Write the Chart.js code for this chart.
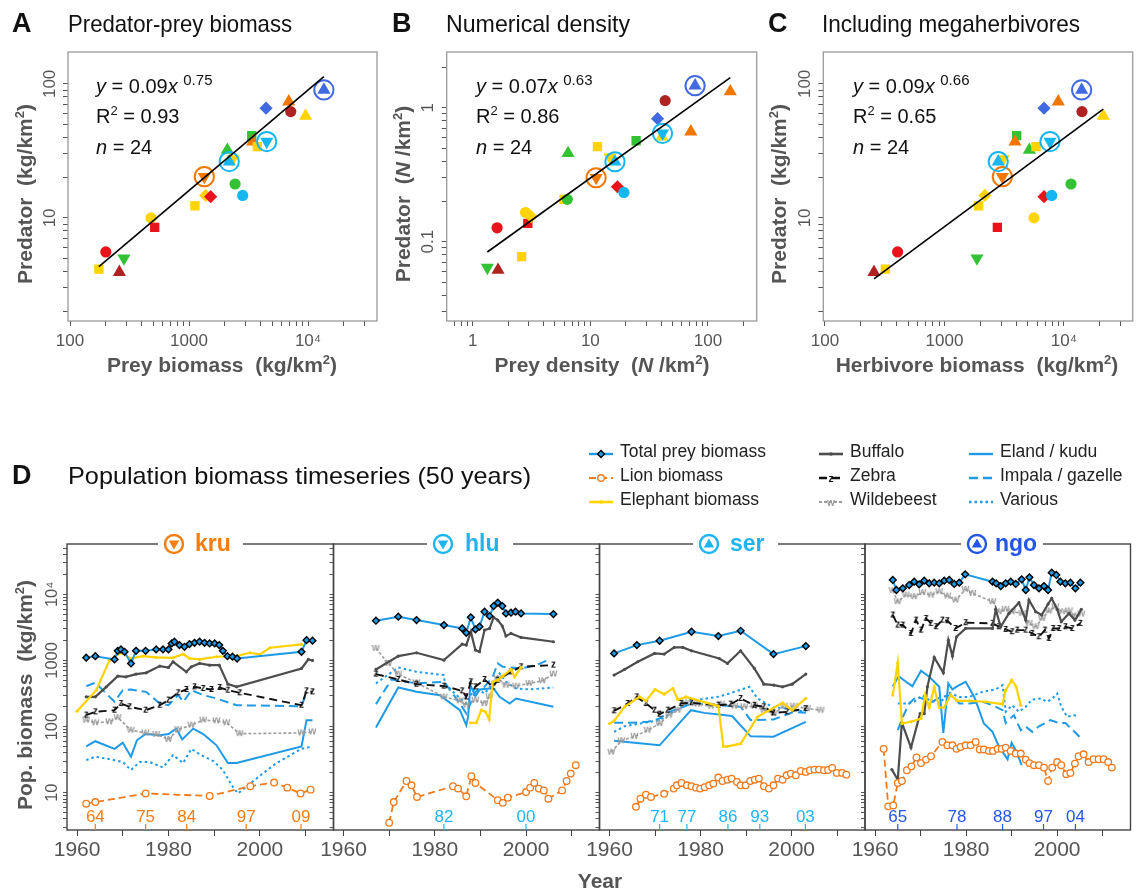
<!DOCTYPE html>
<html>
<head>
<meta charset="utf-8">
<script src="https://cdn.jsdelivr.net/npm/chart.js@4.4.1/dist/chart.umd.min.js"></script>
<style>
  body { margin: 0; background: #fff; }
  #page { position: relative; width: 1141px; height: 892px; overflow: hidden;
          font-family: "Liberation Sans", Arial, Helvetica, sans-serif; color: #111; }
  #plots canvas { position: absolute; left: 0; top: 0; }
  #texts { position: absolute; left: 0; top: 0; width: 1141px; height: 892px; z-index: 5; }
  .t { position: absolute; white-space: nowrap; line-height: 1; }
  .letter { font-weight: bold; font-size: 27px; color: #111; }
  .title { font-size: 24px; color: #111; }
  .eq { font-size: 20px; line-height: 28px; color: #111; }
  .eq sup { font-size: 15px; position: relative; top: -0.55em; vertical-align: baseline; }
  .eq .s2 { font-size: 13px; position: relative; top: -0.6em; vertical-align: baseline; }
  .axt { font-weight: bold; font-size: 21px; color: #555; }
  .lg { font-size: 17.5px; color: #222; }
  .lg svg { position: absolute; }
  .ptitle { font-weight: bold; font-size: 23px; }
</style>
</head>
<body>
<div id="page">
  <div id="plots"></div>
  <div id="texts"></div>
</div>
<script>
// ---------------------------------------------------------------------------
// Panels A–C: predator vs prey across 24 protected areas (log–log)
// ---------------------------------------------------------------------------
const siteCodes = ['s01','s02','s03','s04','s05','s06','s07','s08','s09','kru','s11','s12',
                   'ser','s14','s15','s16','s17','s18','hlu','s20','s21','s22','s23','ngo'];
const preyBiomass      = [175, 200, 260, 284, 480, 515, 1122, 1380, 1520, 1345, 2440, 2825,
                          2180, 2330, 2100, 3365, 3430, 3750, 4500, 4440, 6890, 7160, 9550, 13600];
const predatorBiomass  = [4.14, 5.57, 3.94, 5.0, 10, 8.5, 12.3, 14.7, 14.4, 20.3, 17.9, 14.7,
                          26.3, 27.5, 32.1, 41.1, 37, 34, 37.1, 65.9, 73.8, 62.1, 57.7, 90.2];
const herbivoreBiomass = [320, 405, 257, 1870, 5610, 2770, 1930, 2180, 6810, 3050, 11450, 7890,
                          2820, 3100, 5130, 4020, 3890, 5830, 7640, 6810, 8960, 14150, 21300, 14060];
const preyDensity      = [2.6, 1.61, 1.64, 1.33, 2.81, 2.94, 5.97, 3.13, 17.0, 11.2, 6.37, 19.3,
                          16.2, 14.7, 6.46, 24.5, 71.6, 11.5, 41.1, 37.3, 155, 43.3, 40.6, 77.8];
const predatorDensity  = [0.0773, 0.127, 0.0615, 0.064, 0.165, 0.137, 0.207, 0.154, 0.257, 0.30, 0.207, 0.233,
                          0.395, 0.426, 0.457, 0.567, 0.662, 0.512, 0.644, 0.828, 1.32, 1.13, 0.608, 1.46];
const ringedSites = ['kru', 'hlu', 'ser', 'ngo'];

// power-law fits y = a x^b for panels A, B, C
const fitCoef = [0.09, 0.07, 0.09];
const fitExp  = [0.75, 0.63, 0.66];
const fitR2   = ['0.93', '0.86', '0.65'];
const fitN    = [24, 24, 24];

// axis decades and their labels
const biomassDecades = [100, 1000, 10000];
const biomassLabels  = ['100', '1000', '10\u2074'];
const predDecades    = [10, 100];
const predLabels     = ['10', '100'];
const densDecades    = [1, 10, 100];
const densLabels     = ['1', '10', '100'];
const predDensDecades = [0.1, 1];
const predDensLabels  = ['0.1', '1'];

// ---------------------------------------------------------------------------
// Panel D: population biomass time series (kg/km²) per protected area
// ---------------------------------------------------------------------------
const kruTotal = [[1962,1100],[1964,1160],[1968.2,1035],[1968.9,1400],[1969.6,1470],[1970.4,1350],[1971.8,900],[1972.9,1400],[1975,1400],[1977.3,1470],[1978.8,1470],[1980,1470],[1980.7,1810],[1981.3,1920],[1982.4,1710],[1983.5,1610],[1984.6,1770],[1985.7,1850],[1986.8,1920],[1987.9,1850],[1989,1810],[1990.1,1810],[1991.1,1710],[1991.9,1400],[1992.9,1160],[1994,1140],[1995,1070],[2009.1,1350],[2010.2,2030],[2011.5,1990]];
const kruLion = [[1962,6.8],[1964,7.2],[1975,9.7],[1989,8.9],[1997.9,12.5],[2003.1,14.2],[2006,11.9],[2008.9,9.7],[2011.1,11.1]];
const kruElephant = [[1960,171],[1964.2,355],[1967.1,1010],[1969.6,1306],[1971.8,1072],[1974.4,1165],[1977.3,1110],[1981,1096],[1983.2,1250],[1984.6,1072],[1986.8,1035],[1990.5,1137],[1994.9,1165],[1997.8,1306],[2000,1232],[2002.2,1556],[2009.1,1746]];
const kruBuffalo = [[1962,282],[1964,282],[1966.4,399],[1968.9,579],[1970.7,566],[1972.9,621],[1975.1,650],[1978.1,821],[1980,783],[1981,955],[1983.9,673],[1985,802],[1986.8,902],[1989,849],[1991.1,849],[1993,438],[1994.9,399],[2009.1,757],[2010.6,1035],[2011.5,1000]];
const kruZebra = [[1962,149],[1964,167],[1968.2,177],[1969.6,223],[1971.5,199],[1975,177],[1978.1,210],[1980,251],[1982.1,324],[1983.9,364],[1985.7,399],[1987.6,377],[1989.4,364],[1991.2,390],[1993,355],[1995.6,324],[2009.1,210],[2010.2,347],[2011.5,335]];
const kruWildebeest = [[1962,125],[1964,114],[1967.1,118],[1968.9,137],[1971.8,88],[1975,80],[1977.3,76],[1980,64],[1982.1,90],[1985,105],[1987.6,125],[1990.5,122],[1992.7,114],[1995.6,78],[2009.1,80],[2011.5,83]];
const kruEland = [[1962,50],[1964,60],[1968.2,46],[1970,57],[1971.8,35],[1973.1,62],[1975,77],[1978.1,74],[1980,77],[1981.7,93],[1983,64],[1985.4,93],[1987.6,77],[1990.5,52],[1993,28],[1994.9,28],[2009.1,50],[2010.2,125],[2011.5,125]];
const kruImpala = [[1962,408],[1964,459],[1968.2,237],[1970,355],[1971.8,363],[1975.1,335],[1978.1,223],[1980,210],[1982.1,299],[1983.3,237],[1985,355],[1987.6,299],[1990.5,266],[1994.9,210],[2009.1,203],[2010.2,324]];
const kruVarious = [[1962,31],[1964,35],[1968.2,31],[1970,29],[1971.8,22],[1973.7,29],[1975.9,29],[1978.8,24],[1981,37],[1983.2,28],[1985,46],[1986.8,38],[1989.8,30],[1991.9,22],[1993.8,13],[1995.2,9.7],[2000,18],[2003.6,28],[2009.1,46],[2011.5,50]];

const hluTotal = [[1967.1,3990],[1972,4590],[1976,4080],[1982,3430],[1986,3050],[1986.9,2620],[1987.9,4490],[1988.9,2950],[1989.8,3240],[1990.9,5460],[1992,4700],[1992.9,6660],[1993.8,7480],[1994.8,6660],[1995.6,5150],[1996.7,5280],[1997.7,5460],[1998.9,5150],[2006,5030]];
const hluLion = [[1970,3.5],[1971,7.2],[1973.8,15],[1974.9,12.9],[1976.1,8.6],[1984,12.5],[1985.1,11.5],[1986.9,8.8],[1988,17.7],[1988.9,14],[1993.8,7.7],[1994.9,7.0],[1996,8.4],[2000,10.2],[2000.9,11.9],[2001.8,14],[2002.8,11.5],[2003.9,10.8],[2004.9,8.1],[2007.9,10.8],[2008.9,15],[2009.8,19.4],[2010.9,26]];
const hluElephant = [[1987.8,114],[1989.1,114],[1990.2,177],[1991.1,167],[1991.9,128],[1992.7,476],[1993.8,503],[1994.9,579],[1996.7,731],[1997.5,566],[1998.9,783]];
const hluBuffalo = [[1967.1,731],[1972,1164],[1976,1306],[1982,1011],[1986,1766],[1986.9,1707],[1987.9,2718],[1988.9,1435],[1989.8,1353],[1990.9,2880],[1992,3050],[1992.9,4490],[1993.8,4085],[1994.8,3313],[1995.6,2339],[1996.7,2566],[1998.9,2228],[2006,1919]];
const hluZebra = [[1967.1,621],[1972,515],[1976,438],[1982,409],[1986,347],[1986.9,281],[1987.9,476],[1988.9,399],[1990.9,515],[1992.7,399],[1993.8,503],[1996.7,673],[1998.9,802],[2006,850]];
const hluWildebeest = [[1967.1,1520],[1969.8,902],[1972,621],[1976,459],[1982,281],[1985.5,245],[1986.9,210],[1988.9,251],[1990.9,223],[1992,281],[1993.8,533],[1995.6,423],[1997.8,409],[2000.7,449],[2003.6,492],[2006,621]];
const hluEland = [[1967.1,97],[1972,390],[1976,335],[1981.1,298],[1985.5,177],[1986.9,105],[1987.3,140],[1987.8,423],[1988.9,288],[1989.9,363],[1992,377],[1992.9,377],[1994.2,281],[1996.4,223],[1997.8,266],[2006,199]];
const hluImpala = [[1967.1,218],[1969.5,399],[1970.5,515],[1976,449],[1982,476],[1985.5,223],[1986.9,157],[1988.9,335],[1990.9,399],[1992.7,566],[1993.8,902],[1994.9,802],[1996.7,783],[1998.9,757],[2002.2,850],[2004.4,988]];
const hluVarious = [[1967.1,449],[1972,783],[1976,673],[1982,600],[1982.2,449],[1985.5,266],[1986.9,223],[1988.9,390],[1990.9,316],[1992.7,449],[1994.2,635],[1995.6,476],[1997.8,377],[2000.7,364],[2006,390]];

const serTotal = [[1961,1277],[1966,1707],[1971,1986],[1978,2718],[1983.9,2339],[1988.8,2812],[1996,1247],[2003.1,1648]];
const serLion = [[1965.8,6.1],[1966.8,8.1],[1968,9.3],[1969.1,8.6],[1972,9.6],[1974.1,11.5],[1974.8,12.9],[1975.8,14],[1977,12.9],[1978,12.5],[1979,11.9],[1979.9,11.5],[1980.9,12.1],[1981.9,12.9],[1982.8,13.7],[1983.9,16.9],[1984.8,15],[1985.9,15.7],[1986.8,16.3],[1988,14.5],[1988.8,12.9],[1989.9,12.9],[1990.9,15],[1991.9,15.7],[1992.8,16.3],[1993.9,12.5],[1995,11.5],[1996,12.9],[1997,16.3],[1998,15.7],[1998.9,18.3],[1999.8,19.4],[2000.9,18.3],[2002,21.3],[2003.1,20.6],[2004,21.8],[2005,22.3],[2006,22.3],[2007.1,21.8],[2008,22],[2008.9,23.7],[2009.9,19.9],[2011.1,19.9],[2012,18.7]];
const serElephant = [[1960,111],[1961,122],[1963.3,199],[1966.6,281],[1968,245],[1970,364],[1972,309],[1973.9,377],[1975,256],[1976.8,281],[1983.9,203],[1985,50],[1985.9,50],[1988.8,55],[1992.5,140],[1998,229],[2000.1,177],[2003.1,266]];
const serBuffalo = [[1961,600],[1963.3,731],[1966.2,955],[1969.9,1277],[1972,1247],[1974.2,1574],[1976.1,1574],[1978,1400],[1984.1,1071],[1985.9,902],[1988.8,1400],[1991.8,757],[1993.9,438],[1996.1,423],[1998,399],[2000.1,438],[2003.1,621]];
const serZebra = [[1961,173],[1964,223],[1966,281],[1968,223],[1969.9,177],[1971,154],[1972.8,177],[1975.7,223],[1978,229],[1983.9,210],[1986.6,218],[1988.8,266],[1991.8,210],[1993.9,199],[1996,161],[1999,167],[2003.1,187]];
const serWildebeest = [[1960.4,41],[1962.6,61],[1965.5,71],[1968.4,88],[1971,111],[1973.1,149],[1975,177],[1976.8,229],[1979.3,218],[1982.3,203],[1984.5,218],[1987.4,203],[1989.6,199],[1991.8,203],[1993.9,177],[1996.1,157],[1998.3,203],[2000.5,203],[2003.4,187],[2006.4,177]];
const serEland = [[1961,61],[1971,52],[1977.9,177],[1980.8,161],[1986.9,144],[1991,71],[1996,70],[2003.1,118]];
const serImpala = [[1961,114],[1964.7,114],[1968.4,118],[1971,132],[1973.1,167],[1975.3,187],[1978,223],[1984.1,210],[1988.8,199],[1991,125],[1996,128],[2000.5,167],[2003.1,161]];
const serVarious = [[1961,83],[1963.3,101],[1971,125],[1978,245],[1983.7,281],[1985.9,309],[1990.7,399],[1992.5,266],[1996,194],[1999,187],[2003.1,167]];

const ngoTotal = [[1963.9,16500],[1964.7,11640],[1966.1,12330],[1967.5,13840],[1968.6,15560],[1969.7,14180],[1970.8,16110],[1971.9,14690],[1973,15030],[1974.1,14690],[1975.2,16110],[1976.3,16500],[1977.4,14360],[1978.5,15030],[1979.8,20090],[1985.8,15560],[1986.6,14690],[1987.6,13360],[1988.7,14690],[1989.8,15560],[1990.9,14360],[1992.2,16870],[1993.1,11640],[1993.9,18110],[1994.9,13840],[1996,12330],[1997.1,13360],[1998,11640],[1998.8,21300],[1999.8,19640],[2000.7,15560],[2001.8,14690],[2002.9,15030],[2004,12330],[2005.1,15030]];
const ngoLion = [[1961.9,46],[1962.9,6.2],[1964,6.4],[1965,14],[1965.9,15],[1967,21.8],[1968,25],[1969.1,34],[1970.1,28],[1971.2,31.6],[1972.3,35.5],[1974.8,58.6],[1975.9,52],[1977,52],[1977.9,46],[1978.8,49],[1979.9,52],[1981,52],[1982.1,58.6],[1983,45],[1983.9,45],[1985,42.8],[1985.9,42.8],[1986.9,46],[1987.8,46],[1988.7,48],[1989.8,42.8],[1990.9,39],[1992,39],[1993.1,31.6],[1993.9,28],[1994.9,26],[1996,26],[1997.1,23.9],[1998,15],[1998.9,23.9],[2000,29],[2000.9,26],[2002,19],[2002.9,19.9],[2003.9,27.5],[2004.7,35.5],[2005.8,38],[2006.9,29],[2008,32],[2009.1,32],[2010.2,32],[2011.2,29],[2012,23.9]];
const ngoElephant = [[1963.9,299],[1965,923],[1965.9,111],[1967.9,118],[1970.1,132],[1971,299],[1971.9,194],[1973,390],[1974.1,194],[1975.2,194],[1976.6,299],[1978.1,245],[1980.7,245],[1984.3,237],[1988,218],[1988.7,355],[1990,503],[1991,399],[1992,210]];
const ngoBuffalo = [[1963.7,22.3],[1965,15.7],[1965.9,114],[1967.9,48],[1969.9,157],[1970.8,157],[1971.5,399],[1973,1110],[1975,650],[1976.1,2030],[1977,1164],[1977.9,2285],[1979.9,3050],[1985.8,3050],[1986.5,5930],[1987.6,3240],[1989.4,5150],[1991.6,7480],[1993.1,4080],[1993.8,8200],[1995.3,5460],[1996.6,4860],[1998,7140],[1998.8,8690],[2000,5930],[2000.9,3860],[2002.6,5150],[2003.9,4080],[2005.3,5930]];
const ngoZebra = [[1963.9,4870],[1965,3430],[1966.1,3430],[1967.9,2566],[1969,4080],[1970.1,2880],[1971.2,4330],[1972.3,3640],[1973.4,3240],[1974.8,4080],[1975.9,3990],[1977.7,3050],[1979.9,3730],[1985.8,3640],[1987.2,3240],[1988.7,2950],[1990.1,2720],[1991.2,2880],[1993.1,2880],[1994.5,2566],[1996,2285],[1997.3,2880],[1998.2,2155],[1999.1,3050],[2000.4,3050],[2001.8,3240],[2003.3,3050],[2005.1,3640]];
const ngoWildebeest = [[1963.9,11370],[1965,7740],[1966.8,9770],[1968.6,9230],[1970.4,10600],[1972.3,9770],[1974.1,10970],[1975.9,9440],[1977.7,8200],[1979.9,11900],[1981.4,10350],[1985.8,7740],[1987.2,5460],[1988.7,5930],[1990.1,5460],[1992.3,5150],[1993.8,3640],[1995.3,3240],[1996.7,4330],[1998.2,5620],[1999.6,6500],[2001.1,5460],[2002.6,5620],[2004,4700],[2005.3,5030]];
const ngoEland = [[1963.9,408],[1965.2,579],[1966.8,476],[1968.2,408],[1970.1,697],[1971.9,566],[1974.1,399],[1975,80],[1976.1,449],[1977,364],[1978.1,408],[1979.9,476],[1981.8,281],[1983.9,111],[1985.8,83],[1987.2,50],[1989.1,32],[1990,57],[1990.9,44],[1992.2,26]];
const ngoImpala = [[1965,88],[1966.1,140],[1967.5,223],[1969,281],[1970.4,266],[1971.9,223],[1974.5,281],[1976.6,298],[1978.5,223],[1980.7,223],[1983.6,237],[1985.8,210],[1988,177],[1988.7,113],[1990.5,149],[1992,88],[1993.1,100],[1994.5,83],[1996,101],[1997.4,113],[1998.5,125],[2000.4,113],[2001.8,113],[2003.3,90],[2004.9,70]];
const ngoVarious = [[1965,223],[1966.8,223],[1968.6,237],[1970.4,298],[1971.9,251],[1974.1,223],[1976.3,324],[1978.5,281],[1980.7,281],[1983.6,335],[1986.5,364],[1988,423],[1988.7,167],[1990.1,210],[1991.6,167],[1993.1,199],[1994.5,256],[1996.4,266],[1997.8,237],[1998.9,266],[2000,316],[2000.9,199],[2002.2,140],[2003.6,149],[2004.7,140]];

// years singled out under each panel
const kruMarkYears = [1964, 1975, 1984, 1997, 2009];
const kruMarkLabels = ['64', '75', '84', '97', '09'];
const hluMarkYears = [1982, 2000];
const hluMarkLabels = ['82', '00'];
const serMarkYears = [1971, 1977, 1986, 1993, 2003];
const serMarkLabels = ['71', '77', '86', '93', '03'];
const ngoMarkYears = [1965, 1978, 1988, 1997, 2004];
const ngoMarkLabels = ['65', '78', '88', '97', '04'];

const yearTicks = [1960, 1970, 1980, 1990, 2000, 2010];
const yearLabels = ['1960', '', '1980', '', '2000', ''];
const popDecades = [10, 100, 1000, 10000];
const popLabels  = ['10', '100', '1000', '10\u2074'];

const legendCol1 = ['Total prey biomass', 'Lion biomass', 'Elephant biomass'];
const legendCol2 = ['Buffalo', 'Zebra', 'Wildebeest'];
const legendCol3 = ['Eland / kudu', 'Impala / gazelle', 'Various'];

// ---------------------------------------------------------------------------
// styling
// ---------------------------------------------------------------------------
const FONT = '"Liberation Sans", Arial, Helvetica, sans-serif';
Chart.defaults.font.family = FONT;
Chart.defaults.animation = false;

const C_RED = '#e8141c', C_DRED = '#b02222', C_ORANGE = '#f07800', C_YEL = '#ffd400',
      C_GREEN = '#33c233', C_SKY = '#16b6f0', C_ROYAL = '#4169e1';
const siteMarker = {
  s01: ['rect', C_YEL], s02: ['circle', C_RED], s03: ['triUp', C_DRED], s04: ['triDown', C_GREEN],
  s05: ['circle', C_YEL], s06: ['rect', C_RED], s07: ['rect', C_YEL], s08: ['diamond', C_YEL],
  s09: ['diamond', C_RED], kru: ['triDown', C_ORANGE], s11: ['circle', C_GREEN], s12: ['circle', C_SKY],
  ser: ['triUp', C_SKY], s14: ['triDown', C_YEL], s15: ['triUp', C_GREEN], s16: ['rect', C_GREEN],
  s17: ['triUp', C_ORANGE], s18: ['rect', C_YEL], hlu: ['triDown', C_SKY], s20: ['diamond', C_ROYAL],
  s21: ['triUp', C_ORANGE], s22: ['circle', C_DRED], s23: ['triUp', C_YEL], ngo: ['triUp', C_ROYAL]
};
const shapeStyle = {
  circle:  { style: 'circle',  r: 5.6, rot: 0 },
  rect:    { style: 'rect',    r: 6.6, rot: 0 },
  triUp:   { style: 'triangle', r: 7.6, rot: 0 },
  triDown: { style: 'triangle', r: 7.6, rot: 180 },
  diamond: { style: 'rectRot', r: 6.6, rot: 0 }
};

const LINE_SKY = '#1f9ae6', LION = '#f27a1c', ELE = '#ffd200', BUF = '#4d4d4d', ZEB = '#111111', WIL = '#9c9c9c';
function glyph(ch, color) {
  const c = document.createElement('canvas');
  c.width = 9; c.height = 11;
  const g = c.getContext('2d');
  g.font = 'bold 10px ' + FONT; g.fillStyle = color;
  g.textAlign = 'center'; g.textBaseline = 'middle';
  g.fillText(ch, 4.5, 5.5);
  return c;
}
const seriesStyle = {
  total:     { color: LINE_SKY, width: 2, dash: [], point: 'rectRot', pr: 3.4, pFill: LINE_SKY, pBorder: '#000', pbw: 1.4 },
  lion:      { color: LION, width: 1.8, dash: [7, 4], point: 'circle', pr: 3.3, pFill: '#fff', pBorder: LION, pbw: 1.3 },
  elephant:  { color: ELE, width: 2.2, dash: [], point: 'circle', pr: 1.6, pFill: ELE, pBorder: ELE, pbw: 0 },
  buffalo:   { color: BUF, width: 2.2, dash: [], point: 'circle', pr: 1.6, pFill: BUF, pBorder: BUF, pbw: 0 },
  zebra:     { color: ZEB, width: 1.9, dash: [8, 5], point: glyph('z', ZEB), pr: 4, pFill: ZEB, pBorder: ZEB, pbw: 0 },
  wildebeest:{ color: WIL, width: 1.6, dash: [3, 2], point: glyph('w', WIL), pr: 4, pFill: WIL, pBorder: WIL, pbw: 0 },
  eland:     { color: LINE_SKY, width: 2, dash: [], point: false, pr: 0 },
  impala:    { color: LINE_SKY, width: 2, dash: [9, 5], point: false, pr: 0 },
  various:   { color: LINE_SKY, width: 2, dash: [2.5, 3], point: false, pr: 0 }
};
const seriesLegendName = {
  total: legendCol1[0], lion: legendCol1[1], elephant: legendCol1[2],
  buffalo: legendCol2[0], zebra: legendCol2[1], wildebeest: legendCol2[2],
  eland: legendCol3[0], impala: legendCol3[1], various: legendCol3[2]
};

// ---------------------------------------------------------------------------
// helpers
// ---------------------------------------------------------------------------
const W = 1141, H = 892;
function makeCanvas() {
  const c = document.createElement('canvas');
  c.width = W; c.height = H;
  c.style.width = W + 'px'; c.style.height = H + 'px';
  document.getElementById('plots').appendChild(c);
  return c;
}
function logTickValues(min, max) {
  const out = [];
  for (let n = Math.floor(Math.log10(min)); n <= Math.ceil(Math.log10(max)); n++) {
    for (let k = 1; k <= 9; k++) {
      const v = Number((k * Math.pow(10, n)).toPrecision(6));
      if (v >= min && v <= max) out.push(v);
    }
  }
  return out;
}
function labelFrom(values, labels) {
  return v => {
    const i = values.findIndex(m => Math.abs(v - m) / m < 1e-6);
    return i >= 0 ? labels[i] : '';
  };
}
const framePlugin = {
  id: 'frame',
  afterDraw(chart, args, o) {
    const { ctx, chartArea: a } = chart;
    ctx.save();
    ctx.strokeStyle = o.color; ctx.lineWidth = o.width;
    ctx.strokeRect(a.left, a.top, a.right - a.left, a.bottom - a.top);
    ctx.restore();
  }
};
const yearMarkPlugin = {
  id: 'yearMarks',
  afterDraw(chart, args, o) {
    if (!o.years) return;
    const { ctx } = chart, sx = chart.scales.x, b = chart.chartArea.bottom;
    ctx.save();
    ctx.strokeStyle = o.color; ctx.fillStyle = o.color; ctx.lineWidth = 1.2;
    ctx.font = '17px ' + FONT; ctx.textAlign = 'center'; ctx.textBaseline = 'middle';
    o.years.forEach((yr, i) => {
      const px = sx.getPixelForValue(yr);
      ctx.beginPath(); ctx.moveTo(px, b); ctx.lineTo(px, b - 6); ctx.stroke();
      ctx.fillText(o.labels[i], px, b - 13);
    });
    ctx.restore();
  }
};
function layoutFor(area, yW, xH) {
  return { autoPadding: false,
           padding: { left: area.l - yW, top: area.t, right: W - area.r, bottom: H - area.b - xH } };
}
function logAxis(min, max, decades, labels, opts) {
  return {
    type: 'logarithmic', min, max, position: opts.position,
    afterBuildTicks: s => { s.ticks = logTickValues(min, max).map(v => ({ value: v })); },
    afterFit: s => { if (opts.position === 'left') s.width = opts.size; else s.height = opts.size; },
    ticks: {
      autoSkip: false, display: opts.showLabels !== false,
      minRotation: opts.rot || 0, maxRotation: opts.rot || 0,
      crossAlign: opts.position === 'left' ? 'center' : 'near',
      padding: opts.pad, color: '#555', font: { size: opts.font },
      callback: labelFrom(decades, labels)
    },
    grid: { drawOnChartArea: false, drawTicks: true, tickLength: opts.tl || 5, color: '#555', lineWidth: 1 },
    border: { display: false }
  };
}

// ---------------------------------------------------------------------------
// scatter panels
// ---------------------------------------------------------------------------
function scatterPanel(p) {
  const idxPlain = [], idxRing = [];
  siteCodes.forEach((c, i) => (ringedSites.includes(c) ? idxRing : idxPlain).push(i));
  const markerSet = idx => {
    const sh = idx.map(i => shapeStyle[siteMarker[siteCodes[i]][0]]);
    return {
      type: 'scatter',
      data: idx.map(i => ({ x: p.xs[i], y: p.ys[i] })),
      pointStyle: sh.map(s => s.style),
      pointRadius: sh.map(s => s.r),
      pointRotation: sh.map(s => s.rot),
      pointBackgroundColor: idx.map(i => siteMarker[siteCodes[i]][1]),
      pointBorderWidth: 0
    };
  };
  const rings = {
    type: 'scatter',
    data: idxRing.map(i => ({ x: p.xs[i], y: p.ys[i] })),
    pointStyle: 'circle', pointRadius: 9.6,
    pointBackgroundColor: 'rgba(255,255,255,0)',
    pointBorderColor: idxRing.map(i => siteMarker[siteCodes[i]][1]),
    pointBorderWidth: 2
  };
  const a = fitCoef[p.k], b = fitExp[p.k];
  const x0 = Math.min(...p.xs), x1 = Math.max(...p.xs);
  const fit = {
    type: 'line',
    data: [{ x: x0, y: a * Math.pow(x0, b) }, { x: x1, y: a * Math.pow(x1, b) }],
    borderColor: '#000', borderWidth: 1.6, pointRadius: 0
  };
  new Chart(makeCanvas(), {
    type: 'scatter',
    data: { datasets: [fit, rings, markerSet(idxRing), markerSet(idxPlain)] },
    options: {
      responsive: false, devicePixelRatio: 1, animation: false,
      layout: layoutFor(p.area, 50, 40),
      plugins: { legend: { display: false }, tooltip: { enabled: false },
                 frame: { color: '#9a9a9a', width: 1.3 } },
      scales: {
        x: logAxis(p.xr[0], p.xr[1], p.xDec, p.xLab, { position: 'bottom', size: 40, pad: 5, font: 17 }),
        y: logAxis(p.yr[0], p.yr[1], p.yDec, p.yLab, { position: 'left', size: 50, pad: p.ypad, font: 17, rot: 90 })
      }
    },
    plugins: [framePlugin]
  });
}

scatterPanel({ k: 0, xs: preyBiomass, ys: predatorBiomass, area: { l: 68, t: 52, r: 377, b: 321 },
  xr: [96.2, 38000], yr: [1.70, 173], xDec: biomassDecades, xLab: biomassLabels,
  yDec: predDecades, yLab: predLabels, ypad: -1 });
scatterPanel({ k: 1, xs: preyDensity, ys: predatorDensity, area: { l: 446.7, t: 52, r: 756.7, b: 321 },
  xr: [0.6457, 260], yr: [0.0256, 2.604], xDec: densDecades, xLab: densLabels,
  yDec: predDensDecades, yLab: predDensLabels, ypad: 2 });
scatterPanel({ k: 2, xs: herbivoreBiomass, ys: predatorBiomass, area: { l: 823.3, t: 52, r: 1132.7, b: 321 },
  xr: [96.8, 37600], yr: [1.70, 173], xDec: biomassDecades, xLab: biomassLabels,
  yDec: predDecades, yLab: predLabels, ypad: -1 });

// ---------------------------------------------------------------------------
// time-series panels
// ---------------------------------------------------------------------------
const drawOrder = ['total', 'lion', 'elephant', 'buffalo', 'zebra', 'wildebeest', 'eland', 'impala', 'various'];
function seriesDataset(key, data) {
  const s = seriesStyle[key];
  return {
    type: 'line', label: seriesLegendName[key], data,
    borderColor: s.color, borderWidth: s.width, borderDash: s.dash,
    pointStyle: s.point || 'circle', pointRadius: s.point ? s.pr : 0,
    pointBackgroundColor: s.pFill, pointBorderColor: s.pBorder, pointBorderWidth: s.pbw,
    tension: 0, fill: false
  };
}
function seriesPanel(p) {
  const datasets = drawOrder.filter(k => p.series[k]).map(k => seriesDataset(k, p.series[k]));
  const yW = p.first ? 60 : 10;
  new Chart(makeCanvas(), {
    type: 'line',
    data: { datasets },
    options: {
      responsive: false, devicePixelRatio: 1, animation: false,
      layout: layoutFor(p.area, yW, 40),
      plugins: { legend: { display: false }, tooltip: { enabled: false },
                 frame: { color: '#444', width: 1.4 },
                 yearMarks: { years: p.markYears, labels: p.markLabels, color: p.markColor } },
      scales: {
        x: {
          type: 'linear', min: 1957.8, max: 2016.1, position: 'bottom',
          afterBuildTicks: s => { s.ticks = yearTicks.map(v => ({ value: v })); },
          afterFit: s => { s.height = 40; },
          ticks: { autoSkip: false, maxRotation: 0, minRotation: 0, padding: 2, color: '#555',
                   font: { size: 21 }, callback: labelFrom(yearTicks, yearLabels) },
          grid: { drawOnChartArea: false, tickLength: 6, color: '#444', lineWidth: 1 },
          border: { display: false }
        },
        y: logAxis(2.72, 57800, popDecades, popLabels,
          { position: 'left', size: yW, pad: -8, font: 16.5, rot: 90, showLabels: !!p.first, tl: 4 })
      }
    },
    plugins: [framePlugin, yearMarkPlugin]
  });
}
const MARK_SKY = '#1eb4f0', MARK_ORANGE = '#f47d0e', MARK_ROYAL = '#2356e6';
seriesPanel({ first: true, area: { l: 67, t: 544, r: 333.5, b: 830 },
  series: { total: kruTotal, lion: kruLion, elephant: kruElephant, buffalo: kruBuffalo, zebra: kruZebra,
            wildebeest: kruWildebeest, eland: kruEland, impala: kruImpala, various: kruVarious },
  markYears: kruMarkYears, markLabels: kruMarkLabels, markColor: MARK_ORANGE });
seriesPanel({ area: { l: 333.5, t: 544, r: 599.5, b: 830 },
  series: { total: hluTotal, lion: hluLion, elephant: hluElephant, buffalo: hluBuffalo, zebra: hluZebra,
            wildebeest: hluWildebeest, eland: hluEland, impala: hluImpala, various: hluVarious },
  markYears: hluMarkYears, markLabels: hluMarkLabels, markColor: MARK_SKY });
seriesPanel({ area: { l: 599.5, t: 544, r: 865, b: 830 },
  series: { total: serTotal, lion: serLion, elephant: serElephant, buffalo: serBuffalo, zebra: serZebra,
            wildebeest: serWildebeest, eland: serEland, impala: serImpala, various: serVarious },
  markYears: serMarkYears, markLabels: serMarkLabels, markColor: MARK_SKY });
seriesPanel({ area: { l: 865, t: 544, r: 1130.5, b: 830 },
  series: { total: ngoTotal, lion: ngoLion, elephant: ngoElephant, buffalo: ngoBuffalo, zebra: ngoZebra,
            wildebeest: ngoWildebeest, eland: ngoEland, impala: ngoImpala, various: ngoVarious },
  markYears: ngoMarkYears, markLabels: ngoMarkLabels, markColor: MARK_ROYAL });

// ---------------------------------------------------------------------------
// text layer: panel letters, titles, fit statistics, axis titles, legend
// ---------------------------------------------------------------------------
const T = document.getElementById('texts');
function addText(html, cls, left, top, fitW) {
  const d = document.createElement('div');
  d.className = 't ' + cls; d.innerHTML = html;
  d.style.left = left + 'px'; d.style.top = top + 'px';
  T.appendChild(d);
  if (fitW) {
    const w = d.getBoundingClientRect().width;
    d.style.transformOrigin = '0 0';
    d.style.transform = 'scaleX(' + (fitW / w).toFixed(3) + ')';
  }
  return d;
}
function addRotated(html, cls, cx, cy) {
  const d = document.createElement('div');
  d.className = 't ' + cls; d.innerHTML = html;
  d.style.left = cx + 'px'; d.style.top = cy + 'px';
  d.style.transformOrigin = '50% 50%';
  d.style.transform = 'translate(-50%,-50%) rotate(-90deg)';
  T.appendChild(d);
  return d;
}
function addCentered(html, cls, cx, top) {
  const d = addText(html, cls, cx, top);
  d.style.transform = 'translateX(-50%)';
  return d;
}

addText('A', 'letter', 12, 10);
addText('B', 'letter', 392, 10);
addText('C', 'letter', 768, 10);
addText('D', 'letter', 12, 462);
addText('Predator-prey biomass', 'title', 68, 12, 224);
addText('Numerical density', 'title', 446, 12, 184);
addText('Including megaherbivores', 'title', 822, 12, 258);
addText('Population biomass timeseries (50 years)', 'title', 68, 464, 463);

const eqLeft = [96, 476, 853];
eqLeft.forEach((x, k) => {
  addText('<i>y</i> = ' + fitCoef[k].toFixed(2) + '<i>x</i> <sup>' + fitExp[k].toFixed(2) + '</sup><br>' +
          'R<span class="s2">2</span> = ' + fitR2[k] + '<br><i>n</i> = ' + fitN[k], 'eq', x, 72);
});

addCentered('Prey biomass&nbsp; (kg/km<sup style="font-size:13px">2</sup>)', 'axt', 222, 353);
addCentered('Prey density&nbsp; (<i>N</i> /km<sup style="font-size:13px">2</sup>)', 'axt', 602, 353);
addCentered('Herbivore biomass&nbsp; (kg/km<sup style="font-size:13px">2</sup>)', 'axt', 977, 353);
addRotated('Predator&nbsp; (kg/km<sup style="font-size:13px">2</sup>)', 'axt', 24, 194);
addRotated('Predator&nbsp; (<i>N</i> /km<sup style="font-size:13px">2</sup>)', 'axt', 402, 194);
addRotated('Predator&nbsp; (kg/km<sup style="font-size:13px">2</sup>)', 'axt', 778, 194);
addRotated('Pop. biomass&nbsp; (kg/km<sup style="font-size:13px">2</sup>)', 'axt', 24, 695);
addCentered('Year', 'axt', 600, 870);

// legend
function legendSymbol(key) {
  const s = seriesStyle[key];
  let m = '';
  if (key === 'total') m = '<path d="M13 2.5 L16.5 6 L13 9.5 L9.5 6 Z" fill="' + s.color + '" stroke="#000" stroke-width="1.3"/>';
  else if (key === 'lion') m = '<circle cx="13" cy="6" r="3.3" fill="#fff" stroke="' + s.color + '" stroke-width="1.4"/>';
  else if (key === 'elephant' || key === 'buffalo') m = '<circle cx="13" cy="6" r="1.8" fill="' + s.color + '"/>';
  else if (key === 'zebra') m = '<text x="13" y="9.5" font-size="10" font-weight="bold" text-anchor="middle" fill="#111">z</text>';
  else if (key === 'wildebeest') m = '<text x="13" y="9.5" font-size="10" font-weight="bold" text-anchor="middle" fill="' + s.color + '">w</text>';
  const dash = s.dash.length ? ' stroke-dasharray="' + s.dash.join(',') + '"' : '';
  return '<svg width="26" height="12" style="left:-32px;top:5px"><line x1="1" y1="6" x2="25" y2="6" stroke="' +
         s.color + '" stroke-width="' + (s.width + 0.4) + '"' + dash + '/>' + m + '</svg>';
}
const legendCols = [
  { x: 620, keys: ['total', 'lion', 'elephant'] },
  { x: 850, keys: ['buffalo', 'zebra', 'wildebeest'] },
  { x: 1000, keys: ['eland', 'impala', 'various'] }
];
legendCols.forEach(col => col.keys.forEach((k, r) => {
  addText(legendSymbol(k) + seriesLegendName[k], 'lg', col.x, 443 + r * 24);
}));

// panel captions on the top edge of each time-series box
function ringIcon(color, up) {
  const tri = up ? 'M11 5.5 L16.2 14.5 L5.8 14.5 Z' : 'M5.8 7.5 L16.2 7.5 L11 16.5 Z';
  return '<svg width="22" height="22" style="vertical-align:middle"><circle cx="11" cy="11" r="9" fill="#fff" stroke="' +
         color + '" stroke-width="2.4"/><path d="' + tri + '" fill="' + color + '"/></svg>';
}
const captions = [
  { name: 'kru', color: MARK_ORANGE, up: false, icon: 174.3, text: 195 },
  { name: 'hlu', color: MARK_SKY, up: false, icon: 443.3, text: 465 },
  { name: 'ser', color: MARK_SKY, up: true, icon: 709, text: 730 },
  { name: 'ngo', color: MARK_ROYAL, up: true, icon: 977, text: 995 }
];
captions.forEach(c => {
  const bg = document.createElement('div');
  bg.style.cssText = 'position:absolute;background:#fff;height:8px;top:540px;left:' + (c.icon - 16) +
                     'px;width:' + (c.text - c.icon + 16 + 48) + 'px';
  T.appendChild(bg);
  const ic = document.createElement('div');
  ic.style.cssText = 'position:absolute;left:' + (c.icon - 11) + 'px;top:533px;width:22px;height:22px';
  ic.innerHTML = ringIcon(c.color, c.up);
  T.appendChild(ic);
  const tx = addText(c.name, 'ptitle', c.text, 532);
  tx.style.color = c.color;
});
</script>
</body>
</html>
